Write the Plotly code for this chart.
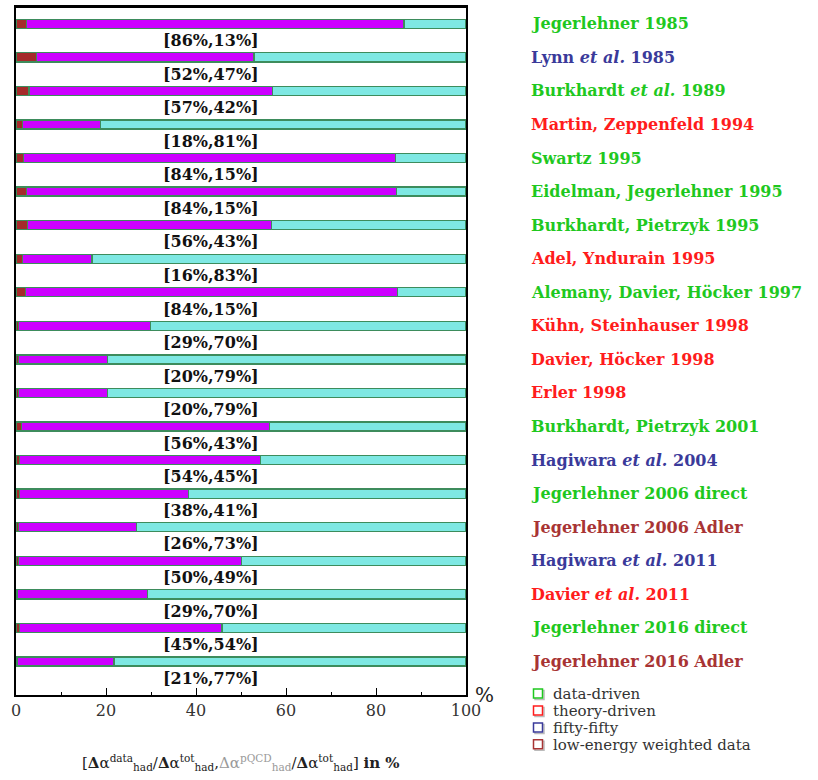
import plotly.graph_objects as go

# ---- data ----
names = [
    "Jegerlehner 1985", "Lynn <i>et al.</i> 1985", "Burkhardt <i>et al.</i> 1989",
    "Martin, Zeppenfeld 1994", "Swartz 1995", "Eidelman, Jegerlehner 1995",
    "Burkhardt, Pietrzyk 1995", "Adel, Yndurain 1995", "Alemany, Davier, Höcker 1997",
    "Kühn, Steinhauser 1998", "Davier, Höcker 1998", "Erler 1998",
    "Burkhardt, Pietrzyk 2001", "Hagiwara <i>et al.</i> 2004", "Jegerlehner 2006 direct",
    "Jegerlehner 2006 Adler", "Hagiwara <i>et al.</i> 2011", "Davier <i>et al.</i> 2011",
    "Jegerlehner 2016 direct", "Jegerlehner 2016 Adler",
]
kinds = ["data", "fifty", "data", "theory", "data", "data", "data", "theory", "data",
         "theory", "theory", "theory", "data", "fifty", "data", "lowE", "fifty",
         "theory", "data", "lowE"]
low_energy = [2.3, 4.6, 2.9, 1.5, 1.6, 2.4, 2.5, 1.5, 2.1, 0.5, 0.5, 0.5, 1.2, 0.7,
              0.7, 0.5, 0.5, 0.3, 0.7, 0.3]
data_part = [83.9, 48.3, 54.1, 17.3, 82.8, 82.2, 54.2, 15.4, 82.6, 29.4, 19.9, 19.9,
             55.1, 53.7, 37.6, 26.2, 49.6, 28.9, 45.1, 21.5]
pqcd_part = [13.8, 47.1, 43.0, 81.2, 15.6, 15.4, 43.3, 83.1, 15.3, 70.1, 79.6, 79.6,
             43.7, 45.6, 61.7, 73.3, 49.9, 70.8, 54.2, 78.2]
shares = ["[86%,13%]", "[52%,47%]", "[57%,42%]", "[18%,81%]", "[84%,15%]", "[84%,15%]",
          "[56%,43%]", "[16%,83%]", "[84%,15%]", "[29%,70%]", "[20%,79%]", "[20%,79%]",
          "[56%,43%]", "[54%,45%]", "[38%,41%]", "[26%,73%]", "[50%,49%]", "[29%,70%]",
          "[45%,54%]", "[21%,77%]"]
x_ticks = [0, 20, 40, 60, 80, 100]
legend_labels = ["data-driven", "theory-driven", "fifty-fifty", "low-energy weighted data"]
legend_kinds = ["data", "theory", "fifty", "lowE"]

kind_color = {"data": "#1fc81f", "theory": "#ff1c1c", "fifty": "#3a3a9a", "lowE": "#a83434"}
FONT = "DejaVu Serif"
rows = list(range(len(names)))

fig = go.Figure()
outline = dict(color="#3d8c5c", width=1.3)
for vals, col in [(low_energy, "#a52a2a"), (data_part, "#cc00ff"), (pqcd_part, "#7ee8e3")]:
    fig.add_trace(go.Bar(y=rows, x=vals, orientation="h", width=0.27,
                         marker=dict(color=col, line=outline), showlegend=False,
                         hoverinfo="skip"))

annotations = []
for i in rows:
    annotations.append(dict(x=43.3, y=i + 0.5, xref="x", yref="y", text="<b>" + shares[i] + "</b>",
                            showarrow=False, font=dict(family=FONT, size=16, color="#111"),
                            xanchor="center", yanchor="middle"))
    annotations.append(dict(x=1.14, y=i, xref="paper", yref="y", text="<b>" + names[i] + "</b>",
                            showarrow=False, font=dict(family=FONT, size=16, color=kind_color[kinds[i]]),
                            xanchor="left", yanchor="middle"))

# "%" unit at the end of the axis
annotations.append(dict(x=1.04, y=0.0, xref="paper", yref="paper", text="%", showarrow=False,
                        font=dict(family=FONT, size=20, color="#222"), xanchor="center", yanchor="middle"))

# axis title
title = ("[<b>Δ</b>α<sup>data</sup><sub>had</sub>/<b>Δ</b>α<sup>tot</sup><sub>had</sub>,"
         "<span style='color:#9a9a9a'>Δα<sup>pQCD</sup><sub>had</sub></span>/"
         "<b>Δ</b>α<sup>tot</sup><sub>had</sub>] <b>in %</b>")
annotations.append(dict(x=0.5, y=-0.098, xref="paper", yref="paper", text=title, showarrow=False,
                        font=dict(family=FONT, size=15, color="#222"), xanchor="center", yanchor="middle"))

# frame: top border line
shapes = [dict(type="line", xref="paper", yref="paper", x0=0, x1=1, y0=1, y1=1,
               line=dict(color="black", width=2))]

# legend (drawn as boxes + text)
W, H, L, T = 450.0, 690.0, 16.0, 5.0
def px(x):
    return (x - L) / W
def py(y):
    return (T + H - y) / H
for k, (lab, kd) in enumerate(zip(legend_labels, legend_kinds)):
    yc = 694 + 17 * k
    shapes.append(dict(type="rect", xref="paper", yref="paper", x0=px(535), x1=px(544),
                       y0=py(yc + 5.5), y1=py(yc - 3.5), line=dict(color="#bbbbbb", width=1.5),
                       fillcolor="rgba(0,0,0,0)"))
    shapes.append(dict(type="rect", xref="paper", yref="paper", x0=px(533.5), x1=px(542.5),
                       y0=py(yc + 4), y1=py(yc - 5), line=dict(color=kind_color[kd], width=1.5),
                       fillcolor="white"))
    annotations.append(dict(x=px(552), y=py(yc), xref="paper", yref="paper", text=lab,
                            showarrow=False, borderpad=0,
                            font=dict(family=FONT, size=15, color="#333"),
                            xanchor="left", yanchor="middle"))

fig.update_layout(
    barmode="stack", width=818, height=780,
    margin=dict(l=16, r=352, t=5, b=85),
    plot_bgcolor="white", paper_bgcolor="white",
    annotations=annotations, shapes=shapes,
    xaxis=dict(range=[0, 100], tickvals=x_ticks, ticks="inside", ticklen=7, tickwidth=1.3,
               tickcolor="black", showline=True, linecolor="black", linewidth=1.5, mirror=True,
               showgrid=False, zeroline=False,
               minor=dict(dtick=10, ticks="inside", ticklen=3, tickcolor="black", tickwidth=1),
               tickfont=dict(family=FONT, size=16, color="#333")),
    yaxis=dict(range=[20, -0.5], showticklabels=False, ticks="", showline=True,
               linecolor="black", linewidth=1.5, mirror=True, showgrid=False, zeroline=False),
)

fig.write_html("out.html", config={"displayModeBar": False},
               post_script="document.body.style.margin='0';document.body.style.overflow='hidden';")
